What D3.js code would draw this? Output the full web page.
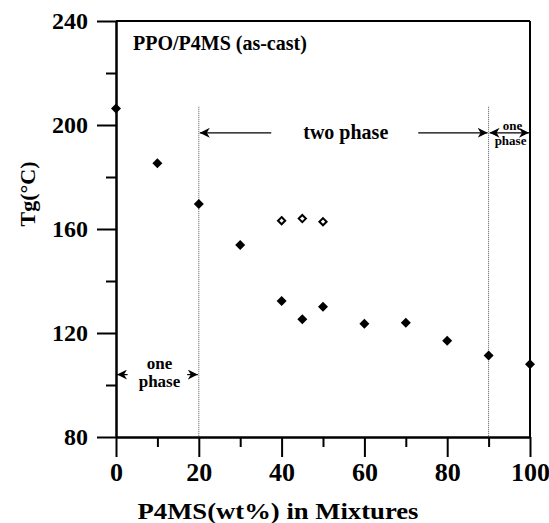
<!DOCTYPE html>
<html><head><meta charset="utf-8">
<script src="https://cdn.jsdelivr.net/npm/d3@7"></script>
<style>
body{margin:0;background:#fff;}
svg{display:block;font-family:"Liberation Serif","Times New Roman",serif;font-weight:bold;}
</style></head>
<body>
<script>
// ---- data ----
const wtP4MS     = [0, 10, 20, 30, 40, 45, 50, 60, 70, 80, 90, 100];
const tgLow      = [206.3, 185.3, 169.6, 153.8, 132.3, 125.3, 130.1, 123.6, 123.9, 117.0, 111.3, 108.0];
const wtOpen     = [40, 45, 50];
const tgHigh     = [163.2, 164.0, 162.8];
const xTicksMajor = [0, 20, 40, 60, 80, 100];
const xTicksMinor = [10, 30, 50, 70, 90];
const yTicksMajor = [80, 120, 160, 200, 240];
const yTicksMinor = [100, 140, 180, 220];
const phaseBounds = [20, 90];
const boundTop = 207;
const arrowTg = 197;
const arrowTgLeft = 104;

const W = 549, H = 523;
const m = {l:116, r:19, t:21, b:86};
const svg = d3.select("body").append("svg").attr("width", W).attr("height", H);

const x = d3.scaleLinear().domain([0,100]).range([m.l, W - m.r]);
const y = d3.scaleLinear().domain([80,240]).range([H - m.b, m.t]);

const defs = svg.append("defs");
function marker(id, orient){
  defs.append("marker").attr("id", id).attr("viewBox","0 0 10 10")
    .attr("refX", 10).attr("refY", 5).attr("markerWidth", 10).attr("markerHeight", 10)
    .attr("markerUnits","userSpaceOnUse").attr("orient", orient)
    .append("path").attr("d","M0,0 L10,5 L0,10 L3,5 Z").attr("fill","#000");
}
marker("arr","auto");
marker("arrS","auto-start-reverse");

// phase boundaries (dotted)
svg.selectAll(".bound").data(phaseBounds).enter().append("line")
  .attr("x1", d=>x(d)).attr("x2", d=>x(d))
  .attr("y1", y(boundTop)).attr("y2", y(80))
  .attr("stroke","#555").attr("stroke-width",1).attr("stroke-dasharray","1,1");

// axes
const gx = svg.append("g").attr("transform",`translate(0,${y(80)})`);
gx.call(d3.axisBottom(x).tickValues(xTicksMajor).tickSize(20).tickSizeOuter(0).tickPadding(6).tickFormat(d3.format("d")));
const gxm = svg.append("g").attr("transform",`translate(0,${y(80)})`);
gxm.call(d3.axisBottom(x).tickValues(xTicksMinor).tickSize(10).tickSizeOuter(0).tickFormat(""));
const gy = svg.append("g").attr("transform",`translate(${x(0)},0)`);
gy.call(d3.axisLeft(y).tickValues(yTicksMajor).tickSize(19).tickSizeOuter(0).tickPadding(9).tickFormat(d3.format("d")));
const gym = svg.append("g").attr("transform",`translate(${x(0)},0)`);
gym.call(d3.axisLeft(y).tickValues(yTicksMinor).tickSize(10).tickSizeOuter(0).tickFormat(""));
[gx,gxm,gy,gym].forEach(g=>{
  g.selectAll("path.domain").attr("stroke","#000").attr("stroke-width",2);
  g.selectAll(".tick line").attr("stroke","#000").attr("stroke-width",2);
  g.selectAll("text").attr("fill","#000").style("font-family","'Liberation Serif',serif").style("font-weight","bold");
});
gx.selectAll("text").style("font-size","26px");
gy.selectAll("text").style("font-size","24px");
// top & right frame
svg.append("line").attr("x1",x(0)).attr("x2",x(100)).attr("y1",y(240)).attr("y2",y(240)).attr("stroke","#000").attr("stroke-width",2);
svg.append("line").attr("x1",x(100)).attr("x2",x(100)).attr("y1",y(240)).attr("y2",y(80)).attr("stroke","#000").attr("stroke-width",2);

// arrows
function arrow(x1,x2,yy,both){
  const l = svg.append("line").attr("x1",x1).attr("x2",x2).attr("y1",yy).attr("y2",yy)
    .attr("stroke","#000").attr("stroke-width",1.2).attr("marker-end","url(#arr)");
  if(both) l.attr("marker-start","url(#arrS)");
}
// two phase
arrow(x(37.5), x(20)+1, y(arrowTg));
arrow(x(73), x(90)-1, y(arrowTg));
svg.append("text").attr("x", x(55.5)).attr("y", y(arrowTg)+6).attr("text-anchor","middle")
  .style("font-size","20px").text("two phase");
// right one phase
arrow(x(90)+1, x(100)-1, y(arrowTg), true);
svg.append("text").attr("x", x(95.8)).attr("y", y(arrowTg)-3).attr("text-anchor","middle").style("font-size","13px").text("one");
svg.append("text").attr("x", x(95.3)).attr("y", y(arrowTg)+12).attr("text-anchor","middle").style("font-size","13px").text("phase");
// left one phase
arrow(x(2.8), x(0)+1, y(arrowTgLeft));
arrow(x(17.2), x(20)-1, y(arrowTgLeft));
svg.append("text").attr("x", x(10.5)).attr("y", y(arrowTgLeft)-6).attr("text-anchor","middle").style("font-size","17px").text("one");
svg.append("text").attr("x", x(10.5)).attr("y", y(arrowTgLeft)+12).attr("text-anchor","middle").style("font-size","17px").text("phase");

// points
const dia = r => `M0,${-r} L${r},0 L0,${r} L${-r},0 Z`;
svg.selectAll(".pf").data(wtP4MS.map((w,i)=>[w,tgLow[i]])).enter().append("path")
  .attr("transform", d=>`translate(${x(d[0])},${y(d[1])})`).attr("d", dia(5)).attr("fill","#000");
svg.selectAll(".po").data(wtOpen.map((w,i)=>[w,tgHigh[i]])).enter().append("path")
  .attr("transform", d=>`translate(${x(d[0])},${y(d[1])})`).attr("d", dia(3.6))
  .attr("fill","#fff").attr("stroke","#000").attr("stroke-width",2);

// titles
svg.append("text").attr("x",133).attr("y",50).style("font-size","20px").text("PPO/P4MS (as-cast)");
svg.append("text").attr("x", 278).attr("y", 519).attr("text-anchor","middle")
  .attr("textLength", 281).attr("lengthAdjust","spacingAndGlyphs")
  .style("font-size","23px").text("P4MS(wt%) in Mixtures");
svg.append("text").attr("transform",`translate(35,${194}) rotate(-90)`).attr("text-anchor","middle")
  .style("font-size","22px").text("Tg(°C)");
</script>
</body></html>
